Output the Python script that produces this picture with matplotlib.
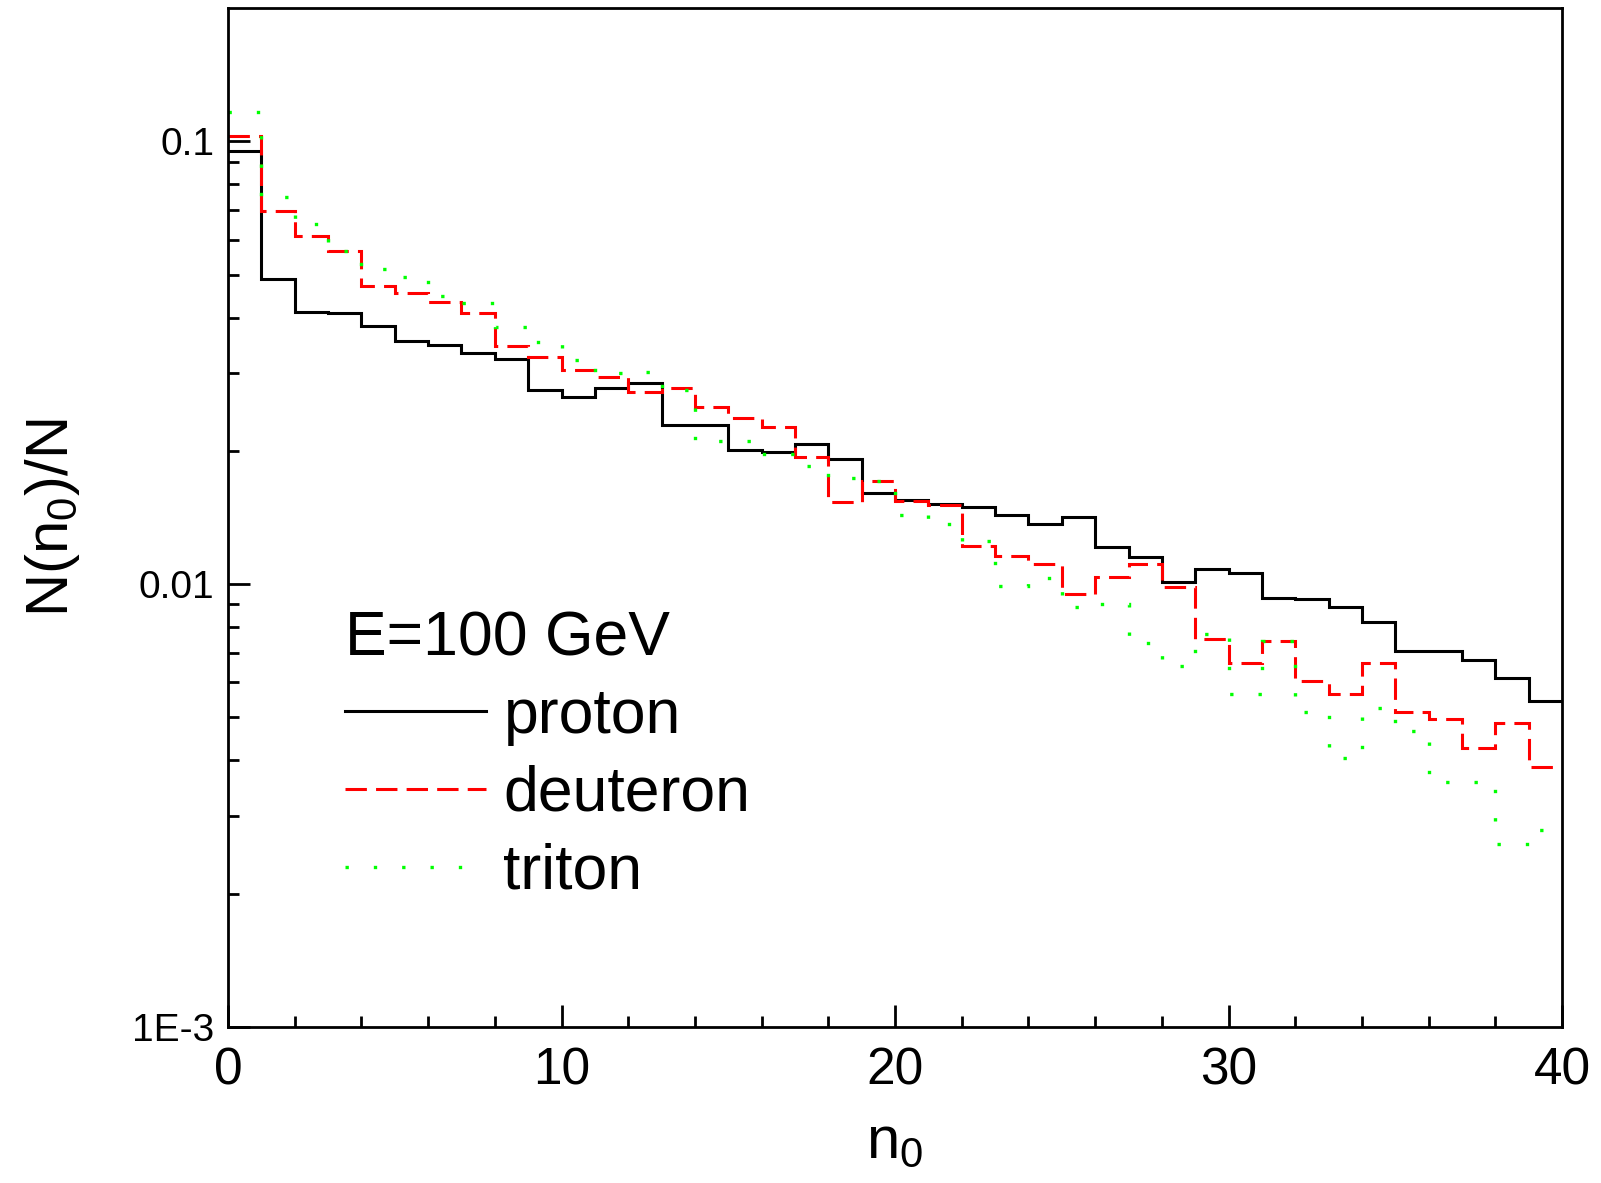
import numpy as np
import matplotlib
matplotlib.use('Agg')
import matplotlib.pyplot as plt
from matplotlib.lines import Line2D
from matplotlib.ticker import FixedLocator, FixedFormatter, MultipleLocator, NullFormatter

plt.rcParams['font.family'] = ['Liberation Sans', 'DejaVu Sans']
plt.rcParams['mathtext.fontset'] = 'custom'
plt.rcParams['mathtext.rm'] = 'Liberation Sans'
plt.rcParams['mathtext.it'] = 'Liberation Sans'

# bin edges n0 = 0..40
edges = np.arange(0, 41)

proton = [0.095, 0.0488, 0.0412, 0.0410, 0.0383, 0.0354, 0.0347, 0.0333, 0.0323, 0.0275,
          0.0264, 0.0278, 0.0284, 0.0229, 0.0229, 0.0201, 0.0199, 0.0207, 0.0192, 0.0161,
          0.0155, 0.0152, 0.0149, 0.0143, 0.0137, 0.0142, 0.0121, 0.0115, 0.0101, 0.0108,
          0.0106, 0.0093, 0.00925, 0.00886, 0.0082, 0.00705, 0.00705, 0.00675, 0.00614, 0.00544]
deuteron = [0.103, 0.0697, 0.0611, 0.0565, 0.0472, 0.0455, 0.0434, 0.0410, 0.0345, 0.0325,
            0.0304, 0.0293, 0.0272, 0.0277, 0.0251, 0.0237, 0.0226, 0.0194, 0.0153, 0.0171,
            0.0154, 0.0151, 0.0122, 0.0116, 0.0111, 0.0095, 0.01036, 0.0111, 0.00987, 0.00753,
            0.00662, 0.00745, 0.00604, 0.00564, 0.00663, 0.00515, 0.00497, 0.00426, 0.00487, 0.00386]
triton = [0.1164, 0.0748, 0.0650, 0.0565, 0.0515, 0.0493, 0.0448, 0.0431, 0.0381, 0.0352,
          0.0321, 0.0300, 0.0302, 0.0274, 0.0210, 0.0210, 0.0197, 0.0185, 0.0174, 0.0171,
          0.0143, 0.0137, 0.0125, 0.0099, 0.0103, 0.00886, 0.0090, 0.00736, 0.00655, 0.00771,
          0.00564, 0.00745, 0.00515, 0.00406, 0.00524, 0.00466, 0.00358, 0.00358, 0.00259, 0.00279]

ytick_vals = [1e-3, 1e-2, 1e-1]
ytick_labels = ['1E-3', '0.01', '0.1']

red_ls = (0, (7, 3))
green_ls = (0, (1, 7.5))

fig = plt.figure(figsize=(16.01, 11.83), dpi=100)
ax = fig.add_axes([0.1424, 0.1319, 0.8333, 0.8613])

ax.stairs(proton, edges, baseline=None, color='black', lw=2.2)
ax.stairs(deuteron, edges, baseline=None, color='#ff0000', lw=2.2, linestyle=red_ls)
ax.stairs(triton, edges, baseline=None, color='#00ff00', lw=2.4, linestyle=green_ls)

ax.set_yscale('log')
ax.set_xlim(0, 40)
ax.set_ylim(1e-3, 0.2)

ax.yaxis.set_major_locator(FixedLocator(ytick_vals))
ax.yaxis.set_major_formatter(FixedFormatter(ytick_labels))
minors = [m * 10.0 ** e for e in (-3, -2, -1) for m in range(2, 10) if m * 10.0 ** e < 0.2]
ax.yaxis.set_minor_locator(FixedLocator(minors))
ax.yaxis.set_minor_formatter(NullFormatter())
ax.xaxis.set_major_locator(MultipleLocator(10))
ax.xaxis.set_minor_locator(MultipleLocator(2))

ax.tick_params(which='both', direction='in', top=False, right=False, width=2)
ax.tick_params(which='major', length=16)
ax.tick_params(which='minor', length=8)
ax.tick_params(axis='x', labelsize=37, pad=14)
ax.tick_params(axis='y', labelsize=28, pad=10)
for s in ax.spines.values():
    s.set_linewidth(2)

ax.set_xlabel(r'$\mathregular{n_0}$', fontsize=43, labelpad=14)
ax.set_ylabel(r'$\mathregular{N(n_0)/N}$', fontsize=43, labelpad=36)

handles = [Line2D([], [], color='black', lw=2.2),
           Line2D([], [], color='#ff0000', lw=2.2, linestyle=red_ls),
           Line2D([], [], color='#00ff00', lw=2.4, linestyle=green_ls)]
leg = ax.legend(handles, ['proton', 'deuteron', 'triton'], title='E=100 GeV',
                frameon=False, fontsize=45, title_fontsize=45, alignment='left',
                loc='lower left', bbox_to_anchor=(0.05, 0.074), borderpad=0.3,
                handlelength=2.26, handletextpad=0.28, labelspacing=0.3)

fig.savefig('out.png', dpi=100)
